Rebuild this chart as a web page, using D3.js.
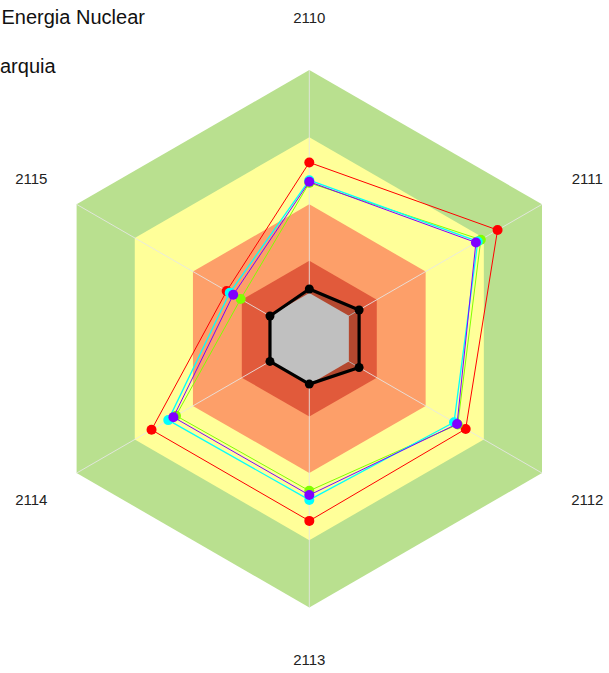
<!DOCTYPE html>
<html>
<head>
<meta charset="utf-8">
<script src="https://cdn.jsdelivr.net/npm/d3@7/dist/d3.min.js"></script>
<style>
html,body{margin:0;padding:0;background:#fff;}
svg{display:block;font-family:"Liberation Sans",Arial,sans-serif;}
</style>
</head>
<body>
<svg id="chart" width="609" height="673"></svg>
<script>
// ---- data ----
const axes = ["2110", "2111", "2112", "2113", "2114", "2115"];
const bandLevels = [100, 75, 50, 29, 17];
const bandColors = ["#b9e08f", "#ffff99", "#fd9f69", "#e15a3b", "#c0c0c0"];
const seriesNames = ["rojo", "verde", "cian", "violeta", "negro"];
const seriesColors = ["#ff0000", "#80ff00", "#00ffff", "#8000ff", "#000000"];
const seriesRed    = [65.6, 80.9, 67.2, 67.8, 67.8, 35.5];
const seriesGreen  = [58.0, 73.7, 63.8, 56.6, 57.3, 29.5];
const seriesCyan   = [59.0, 72.4, 62.2, 60.0, 60.6, 34.2];
const seriesPurple = [58.4, 71.6, 63.5, 58.2, 58.4, 32.7];
const seriesBlack  = [18.5, 21.4, 21.4, 16.9, 16.9, 16.9];
const titleLines = ["Energia Nuclear", "Jerarquia"];

// ---- layout ----
const svg = d3.select("#chart");
const cx = 309.3, cy = 338.7, R = 268.7, labelR = 321;
const r = d3.scaleLinear().domain([0, 100]).range([0, R]);
const ang = d3.scalePoint().domain(axes).range([0, 2 * Math.PI * 5 / 6]);
const g = svg.append("g").attr("transform", `translate(${cx},${cy})`);

const radial = d3.lineRadial()
  .angle((d, i) => ang(axes[i]))
  .radius(d => r(d))
  .curve(d3.curveLinearClosed);

const pt = (v, i) => {
  const a = ang(axes[i]) - Math.PI / 2;
  return [r(v) * Math.cos(a), r(v) * Math.sin(a)];
};

// bands (all except innermost gray)
bandLevels.slice(0, 4).forEach((lv, k) => {
  g.append("path").attr("d", radial(axes.map(() => lv))).attr("fill", bandColors[k]);
});

// spokes
g.selectAll("line.spoke").data(axes).enter().append("line")
  .attr("x1", 0).attr("y1", 0)
  .attr("x2", (d, i) => pt(100, i)[0]).attr("y2", (d, i) => pt(100, i)[1])
  .attr("stroke", "#e6e6e6").attr("stroke-opacity", 0.85).attr("stroke-width", 1);

// black series translucent fill
g.append("path").attr("d", radial(seriesBlack)).attr("fill", "#000").attr("fill-opacity", 0.2);

// innermost gray band
g.append("path").attr("d", radial(axes.map(() => bandLevels[4]))).attr("fill", bandColors[4]);

// series
const allSeries = [seriesRed, seriesGreen, seriesCyan, seriesPurple, seriesBlack];
const widths = [1, 1, 1.3, 1, 3.2];
const radii = [5, 5, 5, 5, 4.5];
allSeries.forEach((s, k) => {
  const sg = g.append("g").attr("class", "series-" + seriesNames[k]);
  sg.append("path").attr("d", radial(s)).attr("fill", "none")
    .attr("stroke", seriesColors[k]).attr("stroke-width", widths[k])
    .attr("stroke-linejoin", "round");
  sg.selectAll("circle").data(s).enter().append("circle")
    .attr("cx", (d, i) => pt(d, i)[0]).attr("cy", (d, i) => pt(d, i)[1])
    .attr("r", radii[k]).attr("fill", seriesColors[k]);
});

// axis labels
g.selectAll("text.lab").data(axes).enter().append("text")
  .attr("x", (d, i) => labelR * Math.cos(ang(d) - Math.PI / 2))
  .attr("y", (d, i) => labelR * Math.sin(ang(d) - Math.PI / 2))
  .attr("text-anchor", "middle").attr("dominant-baseline", "central")
  .attr("font-size", 15).attr("fill", "#222").text(d => d);

// titles
svg.append("text").attr("x", 1.5).attr("y", 23.5).attr("font-size", 20).attr("fill", "#111").text(titleLines[0]);
svg.append("text").attr("x", -27.8).attr("y", 73).attr("font-size", 20).attr("fill", "#111").text(titleLines[1]);
</script>
</body>
</html>
